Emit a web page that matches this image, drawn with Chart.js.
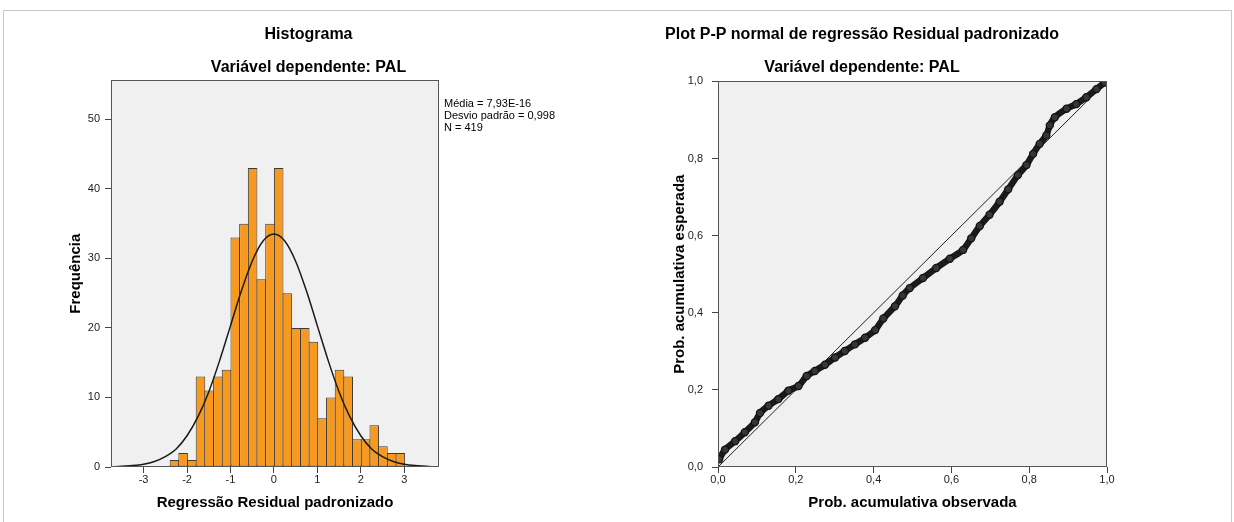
<!DOCTYPE html>
<html>
<head>
<meta charset="utf-8">
<script src="https://cdn.jsdelivr.net/npm/chart.js@4.4.1/dist/chart.umd.min.js"></script>
<style>
    body { margin: 0; background: #fff; width: 1234px; height: 522px; overflow: hidden; position: relative; }
    .frame { position: absolute; left: 3px; top: 10px; width: 1227px; height: 530px; border: 1px solid #c8c8c8; }
    canvas { position: absolute; top: 0; }
    #hist { left: 0; }
    #pp { left: 617px; }
</style>
</head>
<body>
<div class="frame"></div>
<canvas id="hist" width="617" height="522"></canvas>
<canvas id="pp" width="530" height="522"></canvas>
<script>
// histogram bins (centre of each bin) and frequencies
const binCenters = [-2.29, -2.09, -1.89, -1.69, -1.49, -1.29, -1.09, -0.89, -0.69, -0.49, -0.29, -0.09,
    0.11, 0.31, 0.51, 0.71, 0.91, 1.11, 1.31, 1.51, 1.71, 1.91, 2.11, 2.31, 2.51, 2.71, 2.91];
const binCounts = [1, 2, 1, 13, 11, 13, 14, 33, 35, 43, 27, 35, 43, 25, 20, 20, 18, 7, 10, 14, 13, 4, 4, 6, 3, 2, 2];

// fitted normal curve
const curveX = [-3.75, -3.5, -3.25, -3, -2.75, -2.5, -2.25, -2, -1.75, -1.5, -1.25, -1, -0.75, -0.5, -0.25, 0,
    0.25, 0.5, 0.75, 1, 1.25, 1.5, 1.75, 2, 2.25, 2.5, 2.75, 3, 3.25, 3.5, 3.75];
const curveY = [0.0, 0.1, 0.2, 0.4, 0.8, 1.5, 2.6, 4.5, 7.2, 10.8, 15.3, 20.3, 25.3, 29.6, 32.5, 33.5,
    32.5, 29.6, 25.3, 20.3, 15.3, 10.8, 7.2, 4.5, 2.6, 1.5, 0.8, 0.4, 0.2, 0.1, 0.0];

const histXTicks = [-3, -2, -1, 0, 1, 2, 3];
const histYTicks = [0, 10, 20, 30, 40, 50];
const statsLines = ['Média = 7,93E-16', 'Desvio padrão = 0,998', 'N = 419'];

// P-P plot: observed vs expected cumulative probability
const ppObserved = [0.003, 0.018, 0.044, 0.069, 0.095, 0.108, 0.130, 0.155, 0.181, 0.207, 0.228, 0.249,
    0.275, 0.301, 0.326, 0.352, 0.378, 0.404, 0.425, 0.455, 0.475, 0.493, 0.527, 0.561, 0.596, 0.630,
    0.651, 0.673, 0.698, 0.724, 0.746, 0.771, 0.793, 0.810, 0.827, 0.844, 0.853, 0.866, 0.896, 0.921,
    0.947, 0.973, 0.994];
const ppExpected = [0.020, 0.045, 0.067, 0.090, 0.116, 0.140, 0.159, 0.176, 0.198, 0.210, 0.236, 0.249,
    0.265, 0.284, 0.301, 0.318, 0.335, 0.355, 0.385, 0.417, 0.445, 0.464, 0.490, 0.516, 0.540, 0.563,
    0.593, 0.625, 0.654, 0.688, 0.720, 0.757, 0.783, 0.812, 0.838, 0.860, 0.886, 0.907, 0.929, 0.941,
    0.959, 0.980, 0.997];
const diagonal = [0, 1];
const ppTicks = [0, 0.2, 0.4, 0.6, 0.8, 1];

const FONT = '"Liberation Sans", Arial, sans-serif';
const titleFont = { family: FONT, size: 16, weight: 'bold' };
const axisTitleFont = { family: FONT, size: 15, weight: 'bold' };
const tickFont = { family: FONT, size: 11 };
const comma = v => v.toFixed(1).replace('.', ',');

// grey plot background and dark frame, SPSS style
const plotFrame = {
    id: 'plotFrame',
    beforeDatasetsDraw(chart) {
        const { ctx, chartArea: a } = chart;
        ctx.save();
        ctx.fillStyle = '#f0f0f0';
        ctx.fillRect(a.left, a.top, a.width, a.height);
        ctx.restore();
    },
    afterDatasetsDraw(chart) {
        const { ctx, chartArea: a } = chart;
        ctx.save();
        ctx.strokeStyle = '#555';
        ctx.lineWidth = 1;
        ctx.strokeRect(Math.round(a.left) + 0.5, Math.round(a.top) + 0.5, Math.round(a.width) - 1, Math.round(a.height) - 1);
        ctx.restore();
    },
};

const statsText = {
    id: 'statsText',
    afterDraw(chart) {
        const { ctx, chartArea: a } = chart;
        ctx.save();
        ctx.font = '11px ' + FONT;
        ctx.fillStyle = '#000';
        ctx.textBaseline = 'middle';
        statsLines.forEach((t, i) => ctx.fillText(t, a.right + 5, 104 + i * 12));
        ctx.restore();
    },
};

const baseTitles = (title, sub, subBottom) => ({
    legend: { display: false },
    tooltip: { enabled: false },
    title: { display: true, text: title, font: titleFont, color: '#000', padding: { top: 25, bottom: 14 } },
    subtitle: { display: true, text: sub, font: titleFont, color: '#000', padding: { top: 0, bottom: subBottom } },
});

new Chart(document.getElementById('hist'), {
    type: 'bar',
    data: {
        datasets: [
            {
                type: 'line',
                data: curveX.map((x, i) => ({ x, y: curveY[i] })),
                borderColor: '#1a1a1a',
                borderWidth: 1.5,
                pointRadius: 0,
                cubicInterpolationMode: 'monotone',
            },
            {
                type: 'bar',
                data: binCenters.map((x, i) => ({ x, y: binCounts[i] })),
                backgroundColor: '#f7991f',
                borderColor: '#3a3a3a',
                borderWidth: 1,
                borderSkipped: false,
                barPercentage: 1.1,
                categoryPercentage: 1,
            },
        ],
    },
    options: {
        responsive: false,
        animation: false,
        layout: { padding: 0 },
        plugins: baseTitles('Histograma', 'Variável dependente: PAL', 3),
        scales: {
            x: {
                type: 'linear', min: -3.75, max: 3.8, offset: false,
                grid: { drawOnChartArea: false, tickLength: 6, color: '#444', offset: false },
                border: { display: false },
                ticks: { font: tickFont, color: '#222', padding: 0, callback: v => String(v) },
                afterBuildTicks: s => { s.ticks = histXTicks.map(v => ({ value: v })); },
                afterFit: s => { s.height = 55; },
                title: { display: true, text: 'Regressão Residual padronizado', font: axisTitleFont, color: '#000', padding: { top: 0, bottom: 10 } },
            },
            y: {
                min: 0, max: 55.6,
                grid: { drawOnChartArea: false, tickLength: 6, color: '#444' },
                border: { display: false },
                ticks: { font: tickFont, color: '#222', padding: 5 },
                afterBuildTicks: s => { s.ticks = histYTicks.map(v => ({ value: v })); },
                afterFit: s => { s.width = 111; },
                title: { display: true, text: 'Frequência', font: axisTitleFont, color: '#000', padding: { top: 67, bottom: 0 } },
            },
            side: {
                position: 'right', display: true,
                grid: { display: false }, border: { display: false }, ticks: { display: false },
                afterFit: s => { s.width = 178; },
            },
        },
    },
    plugins: [plotFrame, statsText],
});

new Chart(document.getElementById('pp'), {
    type: 'scatter',
    data: {
        datasets: [
            {
                data: ppObserved.map((x, i) => ({ x, y: ppExpected[i] })),
                showLine: true,
                borderColor: '#1a1a1a',
                borderWidth: 6.5,
                tension: 0.2,
                pointRadius: 3.6,
                pointBorderWidth: 1.2,
                pointBorderColor: '#111',
                pointBackgroundColor: '#363636',
            },
            {
                data: diagonal.map(v => ({ x: v, y: v })),
                showLine: true,
                borderColor: '#222',
                borderWidth: 1,
                pointRadius: 0,
            },
        ],
    },
    options: {
        responsive: false,
        animation: false,
        layout: { padding: { left: 0, right: 40, top: 0, bottom: 0 } },
        plugins: baseTitles('Plot P-P normal de regressão Residual padronizado', 'Variável dependente: PAL', 4),
        scales: {
            x: {
                min: 0, max: 1,
                grid: { drawOnChartArea: false, tickLength: 6, color: '#444' },
                border: { display: false },
                ticks: { font: tickFont, color: '#222', padding: 0, callback: v => comma(v) },
                afterBuildTicks: s => { s.ticks = ppTicks.map(v => ({ value: v })); },
                afterFit: s => { s.height = 55; },
                title: { display: true, text: 'Prob. acumulativa observada', font: axisTitleFont, color: '#000', padding: { top: 0, bottom: 10 } },
            },
            y: {
                min: 0, max: 1,
                grid: { drawOnChartArea: false, tickLength: 6, color: '#444' },
                border: { display: false },
                ticks: { font: tickFont, color: '#222', padding: 9, callback: v => comma(v) },
                afterBuildTicks: s => { s.ticks = ppTicks.map(v => ({ value: v })); },
                afterFit: s => { s.width = 101; },
                title: { display: true, text: 'Prob. acumulativa esperada', font: axisTitleFont, color: '#000', padding: { top: 54, bottom: 0 } },
            },
        },
    },
    plugins: [plotFrame],
});
</script>
</body>
</html>
